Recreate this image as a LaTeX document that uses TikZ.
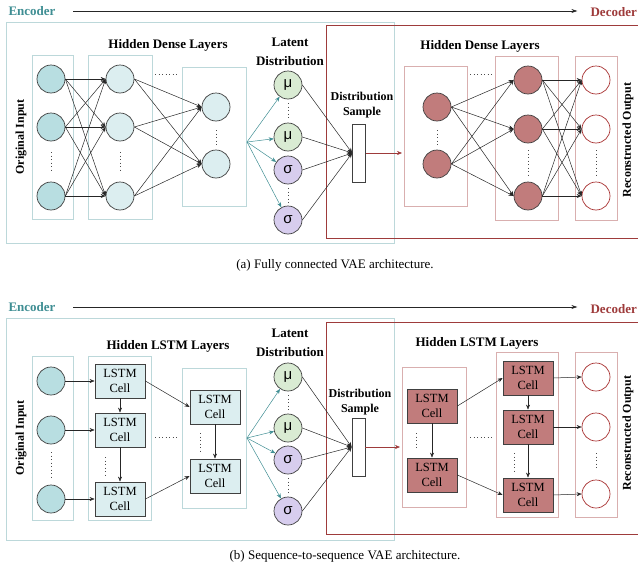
\documentclass[tikz,border=0pt]{standalone}
\usepackage{fontspec}
\setmainfont{Liberation Serif}
\newfontfamily\greekfont{Liberation Sans}
\usetikzlibrary{arrows.meta}

\definecolor{enctxt}{HTML}{3F8E93}
\definecolor{encline}{HTML}{BCD8DA}
\definecolor{decline}{HTML}{9E3B3B}
\definecolor{decbox}{HTML}{D9AFAF}
\definecolor{infill}{HTML}{B8DEE1}
\definecolor{hidfill}{HTML}{DCEEF0}
\definecolor{mufill}{HTML}{D9EBD3}
\definecolor{sigfill}{HTML}{D7CDEE}
\definecolor{decfill}{HTML}{C17C7C}
\definecolor{outring}{HTML}{A83232}

\tikzset{
  neuron/.style={circle,draw=black!75,line width=0.7pt,minimum size=28pt,inner sep=0pt},
  inpunit/.style={neuron,fill=infill},
  hidunit/.style={neuron,fill=hidfill},
  muunit/.style={neuron,fill=mufill,font=\greekfont\fontsize{15}{15}\selectfont},
  sigunit/.style={neuron,fill=sigfill,font=\greekfont\fontsize{15}{15}\selectfont},
  decunit/.style={neuron,fill=decfill},
  outunit/.style={neuron,draw=outring,fill=white},
  lstmcell/.style={draw=black!75,line width=0.8pt,minimum width=50pt,minimum height=34pt,
    inner sep=1pt,align=center,font=\fontsize{12.5}{15}\selectfont},
  enccell/.style={lstmcell,fill=hidfill},
  deccell/.style={lstmcell,fill=decfill},
  samplebar/.style={draw=black!75,line width=0.7pt,fill=white,minimum width=13pt,minimum height=58pt,inner sep=0pt},
  encgrp/.style={draw=encline,line width=1pt},
  decgrp/.style={draw=decbox,line width=1pt},
  link/.style={-{Stealth[length=5pt,width=4pt]},black!85,line width=0.5pt},
  tlink/.style={link,enctxt},
  rlink/.style={link,decline},
  headarrow/.style={-{Stealth[length=6pt,width=4pt]},black!85,line width=0.6pt},
  dotsep/.style={line width=0.9pt,dash pattern=on 0.9pt off 2.6pt,black!70},
  lbl/.style={font=\bfseries\fontsize{13}{19}\selectfont,align=center},
  sidelbl/.style={font=\bfseries\fontsize{12}{14}\selectfont,rotate=90},
  smalllbl/.style={font=\bfseries\fontsize{12}{14.5}\selectfont,align=center},
  captxt/.style={font=\fontsize{13}{14}\selectfont}
}

\begin{document}
\begin{tikzpicture}[x=1pt,y=-1pt]
\useasboundingbox (0,0) rectangle (638,573);
\clip (0,0) rectangle (638,573);

%%%%%%%%%%%%%%%% (a) FULLY CONNECTED %%%%%%%%%%%%%%%%

% Encoder / Decoder headings
\node[lbl,text=enctxt] (enca) at (32,11) {Encoder};
\node[lbl,text=decline,anchor=east,inner xsep=1pt] (deca) at (638,12) {Decoder};
\draw[headarrow] ([xshift=14pt]enca.east) -- ([xshift=-12pt]enca.east -| deca.west);

% Outer boxes
\draw[encgrp] (6,22) rectangle (394,243);
\draw[decline,line width=1pt] (326,25) rectangle (660,238);

% Layer boxes
\draw[encgrp] (32,55) rectangle (73,219);
\draw[encgrp] (88,55) rectangle (152,219);
\draw[encgrp] (182,67) rectangle (246,206);
\draw[decgrp] (404,66) rectangle (467,206);
\draw[decgrp] (495,56) rectangle (558,220);
\draw[decgrp] (575,56) rectangle (617,220);

% Labels
\node[sidelbl] (origa) at (21,137) {Original Input};
\node[lbl] (hida) at (168,45) {Hidden Dense Layers};
\node[lbl] (lata) at (290,52) {Latent\\Distribution};
\node[smalllbl] (sampa) at (362,105) {Distribution\\Sample};
\node[lbl] (dhida) at (480,46) {Hidden Dense Layers};
\node[sidelbl] (reca) at (628,140) {Reconstructed Output};

% Units
\node[inpunit] (in1) at (51,79) {};
\node[inpunit] (in2) at (51,127) {};
\node[inpunit] (in3) at (51,196) {};
\node[hidunit] (ha1) at (120,79) {};
\node[hidunit] (ha2) at (120,127) {};
\node[hidunit] (ha3) at (120,196) {};
\node[hidunit] (hb1) at (216,107) {};
\node[hidunit] (hb2) at (216,164) {};
\node[muunit] (mu1) at (288,85) {μ};
\node[muunit] (mu2) at (288,137) {μ};
\node[sigunit] (sg1) at (288,170) {σ};
\node[sigunit] (sg2) at (288,220) {σ};
\node[samplebar] (smp) at (359,153) {};
\node[decunit] (da1) at (437,107) {};
\node[decunit] (da2) at (437,164) {};
\node[decunit] (db1) at (528,80) {};
\node[decunit] (db2) at (528,129) {};
\node[decunit] (db3) at (528,196) {};
\node[outunit] (out1) at (596,80) {};
\node[outunit] (out2) at (596,129) {};
\node[outunit] (out3) at (596,196) {};
\coordinate (encout) at (247,142);
\coordinate (decin) at (402,153);

% Dots
\draw[dotsep] (51,152) -- (51,172);
\draw[dotsep] (120,152) -- (120,172);
\draw[dotsep] (216,130) -- (216,147);
\draw[dotsep] (155,74) -- (178,74);
\draw[dotsep] (288,103) -- (288,120);
\draw[dotsep] (288,188) -- (288,204);
\draw[dotsep] (437,130) -- (437,145);
\draw[dotsep] (470,74) -- (493,74);
\draw[dotsep] (528,150) -- (528,175);
\draw[dotsep] (596,150) -- (596,175);

% Connections
\foreach \a in {1,2,3}
  \foreach \b in {1,2,3}
    \draw[link] (in\a.east) -- (ha\b.west);
\foreach \a in {1,2,3}
  \foreach \b in {1,2}
    \draw[link] (ha\a.east) -- (hb\b.west);
\foreach \n in {mu1,mu2,sg1,sg2} {
  \draw[tlink] (encout) -- (\n);
  \draw[link] (\n.east) -- (smp.west);
}
\draw[rlink] (smp.east) -- (decin);
\foreach \a in {1,2}
  \foreach \b in {1,2,3}
    \draw[link] (da\a.east) -- (db\b.west);
\foreach \a in {1,2,3}
  \foreach \b in {1,2,3}
    \draw[link] (db\a.east) -- (out\b.west);

\node[captxt] (capa) at (335,265) {(a) Fully connected VAE architecture.};

%%%%%%%%%%%%%%%% (b) SEQUENCE-TO-SEQUENCE %%%%%%%%%%%%%%%%

% Encoder / Decoder headings
\node[lbl,text=enctxt] (encb) at (32,307) {Encoder};
\node[lbl,text=decline,anchor=east,inner xsep=1pt] (decb) at (638,309) {Decoder};
\draw[headarrow] ([xshift=14pt]encb.east) -- ([xshift=-12pt]encb.east -| decb.west);

% Outer boxes
\draw[encgrp] (6,318) rectangle (394,540);
\draw[decline,line width=1pt] (326,322) rectangle (660,534);

% Layer boxes
\draw[encgrp] (32,356) rectangle (73,520);
\draw[encgrp] (88,356) rectangle (151,520);
\draw[encgrp] (182,368) rectangle (246,508);
\draw[decgrp] (402,367) rectangle (466,507);
\draw[decgrp] (496,352) rectangle (558,517);
\draw[decgrp] (575,352) rectangle (617,517);

% Labels
\node[sidelbl] (origb) at (21,438) {Original Input};
\node[lbl] (hidb) at (168,346) {Hidden LSTM Layers};
\node[lbl] (latb) at (290,343) {Latent\\Distribution};
\node[smalllbl] (sampb) at (360,402) {Distribution\\Sample};
\node[lbl] (dhidb) at (477,343) {Hidden LSTM Layers};
\node[sidelbl] (recb) at (628,433) {Reconstructed Output};

% Units and cells
\node[inpunit] (bin1) at (51,381) {};
\node[inpunit] (bin2) at (51,430) {};
\node[inpunit] (bin3) at (51,499) {};
\node[enccell] (ca1) at (120,381) {LSTM\\Cell};
\node[enccell] (ca2) at (120,430) {LSTM\\Cell};
\node[enccell] (ca3) at (120,499) {LSTM\\Cell};
\node[enccell] (cb1) at (215,407) {LSTM\\Cell};
\node[enccell] (cb2) at (215,476) {LSTM\\Cell};
\node[muunit] (bmu1) at (288,377) {μ};
\node[muunit] (bmu2) at (288,428) {μ};
\node[sigunit] (bsg1) at (288,460) {σ};
\node[sigunit] (bsg2) at (288,511) {σ};
\node[samplebar] (bsmp) at (358.5,447) {};
\node[deccell] (dc1) at (432,406) {LSTM\\Cell};
\node[deccell] (dc2) at (432,475) {LSTM\\Cell};
\node[deccell] (dd1) at (528,378) {LSTM\\Cell};
\node[deccell] (dd2) at (528,427) {LSTM\\Cell};
\node[deccell] (dd3) at (528,495) {LSTM\\Cell};
\node[outunit] (bout1) at (596,377) {};
\node[outunit] (bout2) at (596,427) {};
\node[outunit] (bout3) at (596,494) {};
\coordinate (encoutb) at (247,438);
\coordinate (decinb) at (400,447);

% Dots
\draw[dotsep] (51,452) -- (51,477);
\draw[dotsep] (105,457) -- (105,475);
\draw[dotsep] (200,433) -- (200,453);
\draw[dotsep] (155,437) -- (178,437);
\draw[dotsep] (288,395) -- (288,411);
\draw[dotsep] (288,478) -- (288,494);
\draw[dotsep] (416,433) -- (416,450);
\draw[dotsep] (470,437) -- (493,437);
\draw[dotsep] (514,453) -- (514,472);
\draw[dotsep] (596,453) -- (596,470);

% Connections
\foreach \a in {1,2,3}
  \draw[link] (bin\a.east) -- (ca\a.west);
\draw[link] (ca1.south) -- (ca2.north);
\draw[link] (ca2.south) -- (ca3.north);
\draw[link] (ca1.east) -- (cb1.west);
\draw[link] (ca3.east) -- (cb2.west);
\draw[link] (cb1.south) -- (cb2.north);
\foreach \n in {bmu1,bmu2,bsg1,bsg2} {
  \draw[tlink] (encoutb) -- (\n);
  \draw[link] (\n.east) -- (bsmp.west);
}
\draw[rlink] (bsmp.east) -- (decinb);
\draw[link] (dc1.south) -- (dc2.north);
\draw[link] (dc1.east) -- (dd1.west);
\draw[link] (dc2.east) -- (dd3.west);
\draw[link] (dd1.south) -- (dd2.north);
\draw[link] (dd2.south) -- (dd3.north);
\foreach \a in {1,2,3}
  \draw[link] (dd\a.east) -- (bout\a.west);

\node[captxt] (capb) at (345,556) {(b) Sequence-to-sequence VAE architecture.};

\end{tikzpicture}
\end{document}
